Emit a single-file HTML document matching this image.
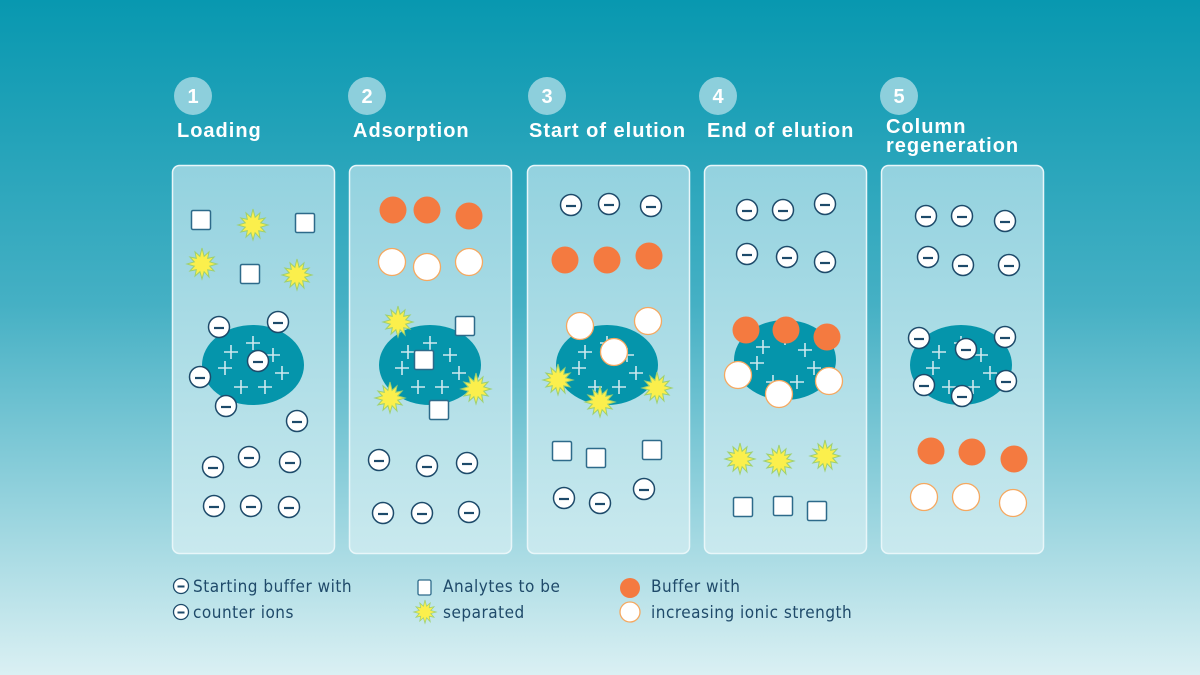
<!DOCTYPE html>
<html><head><meta charset="utf-8"><style>
html,body{margin:0;padding:0;width:1200px;height:675px;overflow:hidden}
svg{display:block}
.t{font-family:"Liberation Sans",sans-serif;font-weight:bold;fill:#fff;font-size:20px;letter-spacing:1px}
.n{font-family:"Liberation Sans",sans-serif;font-weight:bold;fill:#fff;font-size:20px;text-anchor:middle}
.l{font-family:"DejaVu Sans Condensed","Liberation Sans",sans-serif;fill:#1f4a6a;font-size:17px;letter-spacing:0.5px;font-weight:500}
</style></head><body>
<svg width="1200" height="675" viewBox="0 0 1200 675" xmlns="http://www.w3.org/2000/svg">
<defs>
<linearGradient id="bg" x1="0" y1="0" x2="0" y2="1">
<stop offset="0" stop-color="#0898b0"/><stop offset="0.45" stop-color="#45b0c4"/><stop offset="1" stop-color="#daf0f3"/>
</linearGradient>
<linearGradient id="pn" x1="0" y1="0" x2="0" y2="1">
<stop offset="0" stop-color="#93d2df"/><stop offset="1" stop-color="#c9e9ee"/>
</linearGradient>
<g id="neg"><circle r="10.5" fill="#fff" stroke="#1d4a6a" stroke-width="1.5"/><line x1="-5" y1="1" x2="5" y2="1" stroke="#1d4a6a" stroke-width="2.2"/></g>
<g id="sneg"><circle r="7.5" fill="#fff" stroke="#1d4a6a" stroke-width="1.3"/><line x1="-3.5" y1="0.5" x2="3.5" y2="0.5" stroke="#1d4a6a" stroke-width="2"/></g>
<rect id="sq" x="-9.5" y="-9.5" width="19" height="19" rx="1.5" fill="#fff" stroke="#2d6a8a" stroke-width="1.5"/>
<circle id="or" r="13.5" fill="#f47a40"/>
<circle id="wh" r="13.5" fill="#fff" stroke="#f5a860" stroke-width="1.3"/>
<polygon id="st" fill="#fbef4c" stroke="#9fd070" stroke-width="1" points="15,0 7.7,2.1 12.1,7 5.7,5.7 7,13 2.1,7.7 0,15 -2.1,7.7 -7,12.1 -5.7,5.7 -12.1,7 -7.7,2.1 -15,0 -7.7,-2.1 -12.1,-7 -5.7,-5.7 -7,-12.1 -2.1,-7.7 0,-16 2.1,-7.7 7,-12.1 5.7,-5.7 12.1,-7 7.7,-2.1"/>
<g id="blob"><ellipse rx="51" ry="40" fill="#0595ab"/>
<g stroke="#cfe9ef" stroke-width="1.6">
<path d="M-29,-13h14M-22,-20v14"/><path d="M-7,-22h14M0,-29v14"/><path d="M13,-10h14M20,-17v14"/><path d="M-35,3h14M-28,-4v14"/><path d="M22,8h14M29,1v14"/><path d="M-19,22h14M-12,15v14"/><path d="M5,22h14M12,15v14"/>
</g></g>
</defs>
<rect width="1200" height="675" fill="url(#bg)"/>
<g fill="#8dcfdc"><circle cx="193" cy="96" r="19"/><circle cx="367" cy="96" r="19"/><circle cx="547" cy="96" r="19"/><circle cx="718" cy="96" r="19"/><circle cx="899" cy="96" r="19"/></g>
<text class="n" x="193" y="103">1</text><text class="n" x="367" y="103">2</text><text class="n" x="547" y="103">3</text><text class="n" x="718" y="103">4</text><text class="n" x="899" y="103">5</text>
<text class="t" x="177" y="137">Loading</text>
<text class="t" x="353" y="137">Adsorption</text>
<text class="t" x="529" y="137">Start of elution</text>
<text class="t" x="707" y="137">End of elution</text>
<text class="t" x="886" y="133">Column</text>
<text class="t" x="886" y="152">regeneration</text>
<g fill="url(#pn)" stroke="#e8f6f9" stroke-width="1.5">
<rect x="172.5" y="165.5" width="162" height="388" rx="7"/>
<rect x="349.5" y="165.5" width="162" height="388" rx="7"/>
<rect x="527.5" y="165.5" width="162" height="388" rx="7"/>
<rect x="704.5" y="165.5" width="162" height="388" rx="7"/>
<rect x="881.5" y="165.5" width="162" height="388" rx="7"/>
</g>
<!-- panel 1 -->
<use href="#sq" x="201" y="220"/><use href="#sq" x="305" y="223"/><use href="#sq" x="250" y="274"/>
<use href="#st" x="253" y="225"/><use href="#st" x="202" y="264"/><use href="#st" x="297" y="275"/>
<use href="#blob" x="253" y="365"/>
<use href="#neg" x="219" y="327"/><use href="#neg" x="278" y="322"/><use href="#neg" x="258" y="361"/><use href="#neg" x="200" y="377"/><use href="#neg" x="226" y="406"/><use href="#neg" x="297" y="421"/>
<use href="#neg" x="213" y="467"/><use href="#neg" x="249" y="457"/><use href="#neg" x="290" y="462"/><use href="#neg" x="214" y="506"/><use href="#neg" x="251" y="506"/><use href="#neg" x="289" y="507"/>
<!-- panel 2 -->
<use href="#or" x="393" y="210"/><use href="#or" x="427" y="210"/><use href="#or" x="469" y="216"/>
<use href="#wh" x="392" y="262"/><use href="#wh" x="427" y="267"/><use href="#wh" x="469" y="262"/>
<use href="#blob" x="430" y="365"/>
<use href="#st" x="398" y="322"/><use href="#st" x="390" y="398"/><use href="#st" x="476" y="389"/>
<use href="#sq" x="465" y="326"/><use href="#sq" x="424" y="360"/><use href="#sq" x="439" y="410"/>
<use href="#neg" x="379" y="460"/><use href="#neg" x="427" y="466"/><use href="#neg" x="467" y="463"/><use href="#neg" x="383" y="513"/><use href="#neg" x="422" y="513"/><use href="#neg" x="469" y="512"/>
<!-- panel 3 -->
<use href="#neg" x="571" y="205"/><use href="#neg" x="609" y="204"/><use href="#neg" x="651" y="206"/>
<use href="#or" x="565" y="260"/><use href="#or" x="607" y="260"/><use href="#or" x="649" y="256"/>
<use href="#blob" x="607" y="365"/>
<use href="#wh" x="580" y="326"/><use href="#wh" x="648" y="321"/><use href="#wh" x="614" y="352"/>
<use href="#st" x="558" y="380"/><use href="#st" x="600" y="402"/><use href="#st" x="657" y="388"/>
<use href="#sq" x="562" y="451"/><use href="#sq" x="596" y="458"/><use href="#sq" x="652" y="450"/>
<use href="#neg" x="564" y="498"/><use href="#neg" x="600" y="503"/><use href="#neg" x="644" y="489"/>
<!-- panel 4 -->
<use href="#neg" x="747" y="210"/><use href="#neg" x="783" y="210"/><use href="#neg" x="825" y="204"/>
<use href="#neg" x="747" y="254"/><use href="#neg" x="787" y="257"/><use href="#neg" x="825" y="262"/>
<use href="#blob" x="785" y="360"/>
<use href="#or" x="746" y="330"/><use href="#or" x="786" y="330"/><use href="#or" x="827" y="337"/>
<use href="#wh" x="738" y="375"/><use href="#wh" x="779" y="394"/><use href="#wh" x="829" y="381"/>
<use href="#st" x="740" y="459"/><use href="#st" x="779" y="461"/><use href="#st" x="825" y="456"/>
<use href="#sq" x="743" y="507"/><use href="#sq" x="783" y="506"/><use href="#sq" x="817" y="511"/>
<!-- panel 5 -->
<use href="#neg" x="926" y="216"/><use href="#neg" x="962" y="216"/><use href="#neg" x="1005" y="221"/>
<use href="#neg" x="928" y="257"/><use href="#neg" x="963" y="265"/><use href="#neg" x="1009" y="265"/>
<use href="#blob" x="961" y="365"/>
<use href="#neg" x="919" y="338"/><use href="#neg" x="966" y="349"/><use href="#neg" x="1005" y="337"/><use href="#neg" x="924" y="385"/><use href="#neg" x="962" y="396"/><use href="#neg" x="1006" y="381"/>
<use href="#or" x="931" y="451"/><use href="#or" x="972" y="452"/><use href="#or" x="1014" y="459"/>
<use href="#wh" x="924" y="497"/><use href="#wh" x="966" y="497"/><use href="#wh" x="1013" y="503"/>
<!-- legend -->
<use href="#sneg" x="181" y="586"/><use href="#sneg" x="181" y="612"/>
<text class="l" x="193" y="592">Starting buffer with</text>
<text class="l" x="193" y="618">counter ions</text>
<rect x="418" y="580" width="13" height="15" rx="1.5" fill="#fff" stroke="#2d6a8a" stroke-width="1.3"/>
<use href="#st" transform="translate(425,612) scale(0.75)"/>
<text class="l" x="443" y="592">Analytes to be</text>
<text class="l" x="443" y="618">separated</text>
<circle cx="630" cy="588" r="10" fill="#f47a40"/>
<circle cx="630" cy="612" r="10" fill="#fff" stroke="#f5a860" stroke-width="1.3"/>
<text class="l" x="651" y="592">Buffer with</text>
<text class="l" x="651" y="618">increasing ionic strength</text>
</svg>
</body></html>
